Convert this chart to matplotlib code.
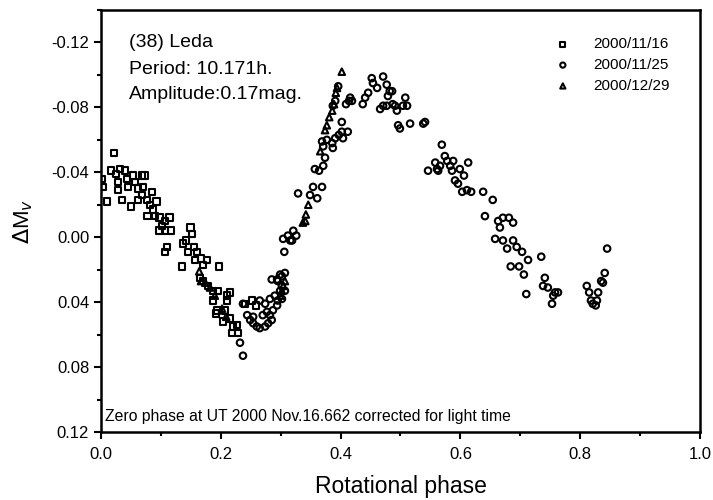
import numpy as np
import matplotlib.pyplot as plt
from matplotlib.ticker import MultipleLocator

plt.rcParams['font.family'] = ['Liberation Sans', 'DejaVu Sans']

# 2000/11/16 (squares)
ph_a = [0.002, 0.003, 0.010, 0.017, 0.022, 0.025, 0.028, 0.028, 0.032, 0.035,
        0.040, 0.043, 0.045, 0.050, 0.053, 0.057, 0.062, 0.062, 0.068, 0.068,
        0.070, 0.073, 0.077, 0.082, 0.085, 0.087, 0.093, 0.078, 0.090, 0.098,
        0.107, 0.114, 0.102, 0.098, 0.107, 0.117, 0.110, 0.107, 0.135, 0.149,
        0.152, 0.142, 0.137, 0.145, 0.155, 0.160, 0.157, 0.167, 0.170, 0.177,
        0.197, 0.165, 0.170, 0.179, 0.187, 0.195, 0.187, 0.194, 0.192, 0.204,
        0.210, 0.215, 0.210, 0.207, 0.215, 0.219, 0.229, 0.220, 0.227, 0.240,
        0.252, 0.259]
dm_a = [-0.036, -0.031, -0.022, -0.041, -0.052, -0.039, -0.034, -0.029, -0.042, -0.023,
        -0.041, -0.036, -0.031, -0.019, -0.038, -0.034, -0.030, -0.023, -0.038, -0.026,
        -0.031, -0.038, -0.023, -0.020, -0.028, -0.017, -0.022, -0.013, -0.013, -0.012,
        -0.010, -0.012, -0.007, -0.004, -0.004, -0.004, 0.006, 0.009, 0.018, -0.006,
        -0.002, 0.002, 0.004, 0.009, 0.006, 0.009, 0.014, 0.013, 0.017, 0.014,
        0.018, 0.025, 0.027, 0.030, 0.033, 0.033, 0.039, 0.045, 0.047, 0.052,
        0.036, 0.034, 0.039, 0.045, 0.050, 0.059, 0.059, 0.055, 0.054, 0.041,
        0.039, 0.042]

# 2000/11/25 (circles)
ph_b = [0.232, 0.237, 0.237, 0.244, 0.249, 0.254, 0.260, 0.265, 0.274, 0.279,
        0.285, 0.282, 0.277, 0.270, 0.254, 0.265, 0.274, 0.282, 0.290, 0.294,
        0.287, 0.295, 0.299, 0.302, 0.295, 0.302, 0.307, 0.299, 0.285, 0.294,
        0.306, 0.307, 0.302,
        0.304, 0.312, 0.321, 0.326, 0.319, 0.316, 0.329, 0.349, 0.354, 0.361,
        0.369, 0.357, 0.364, 0.371, 0.374, 0.371, 0.369, 0.377, 0.386, 0.387,
        0.391, 0.397, 0.404, 0.402, 0.412, 0.402, 0.387, 0.391, 0.396, 0.409,
        0.414, 0.419, 0.416,
        0.437, 0.441, 0.446, 0.452, 0.454, 0.461, 0.471, 0.477, 0.482, 0.479,
        0.466, 0.471, 0.477, 0.487, 0.491, 0.486, 0.494, 0.508, 0.504, 0.511,
        0.496, 0.499, 0.516, 0.538, 0.541,
        0.569, 0.558, 0.546, 0.561, 0.563, 0.566, 0.574, 0.578, 0.583, 0.588,
        0.586, 0.599, 0.606, 0.613, 0.591, 0.596, 0.603, 0.611, 0.618, 0.638,
        0.654, 0.641, 0.663, 0.671, 0.681, 0.688, 0.666, 0.658, 0.671, 0.678,
        0.688, 0.694, 0.703, 0.713, 0.735, 0.684, 0.698, 0.706, 0.710, 0.741,
        0.738, 0.746, 0.758, 0.763, 0.755, 0.753, 0.811, 0.815, 0.818, 0.821,
        0.826, 0.830, 0.828, 0.835, 0.838, 0.841, 0.845]
dm_b = [0.065, 0.073, 0.041, 0.048, 0.051, 0.053, 0.055, 0.056, 0.055, 0.053,
        0.051, 0.048, 0.046, 0.048, 0.049, 0.039, 0.041, 0.038, 0.036, 0.042,
        0.045, 0.039, 0.033, 0.030, 0.027, 0.024, 0.022, 0.023, 0.026, 0.026,
        0.009, 0.033, 0.038,
        0.001, -0.001, -0.004, -0.001, 0.002, 0.002, -0.027, -0.026, -0.031, -0.024,
        -0.031, -0.042, -0.041, -0.044, -0.049, -0.056, -0.059, -0.060, -0.058, -0.055,
        -0.061, -0.063, -0.061, -0.065, -0.065, -0.071, -0.081, -0.084, -0.093, -0.082,
        -0.084, -0.084, -0.086,
        -0.082, -0.086, -0.089, -0.098, -0.095, -0.092, -0.099, -0.094, -0.090, -0.087,
        -0.079, -0.081, -0.081, -0.082, -0.081, -0.090, -0.078, -0.086, -0.081, -0.081,
        -0.069, -0.067, -0.070, -0.070, -0.071,
        -0.057, -0.046, -0.041, -0.042, -0.041, -0.044, -0.050, -0.047, -0.044, -0.047,
        -0.041, -0.042, -0.038, -0.046, -0.035, -0.033, -0.028, -0.029, -0.028, -0.028,
        -0.023, -0.013, -0.010, -0.012, -0.012, -0.009, -0.006, 0.001, 0.002, 0.007,
        0.002, 0.006, 0.009, 0.014, 0.012, 0.018, 0.018, 0.023, 0.035, 0.025,
        0.030, 0.031, 0.034, 0.034, 0.036, 0.041, 0.030, 0.034, 0.039, 0.041,
        0.042, 0.034, 0.039, 0.027, 0.028, 0.022, 0.007]

# 2000/12/29 (triangles)
ph_c = [0.164, 0.167, 0.174, 0.182, 0.190, 0.202, 0.209, 0.299, 0.302, 0.304,
        0.307, 0.341, 0.337, 0.342, 0.346, 0.366, 0.374, 0.377, 0.381, 0.386,
        0.389, 0.392, 0.394, 0.402]
dm_c = [0.021, 0.027, 0.028, 0.031, 0.036, 0.044, 0.049, 0.036, 0.033, 0.030,
        0.027, -0.010, -0.009, -0.014, -0.020, -0.053, -0.066, -0.069, -0.074, -0.078,
        -0.082, -0.089, -0.092, -0.102]

fig = plt.figure(figsize=(7.13, 5.0), dpi=100)
ax = fig.add_axes([0.1417, 0.136, 0.840, 0.844])

mk = dict(facecolors='none', edgecolors='black', linewidths=1.5, s=22)
ax.scatter(ph_a, dm_a, marker='s', label='2000/11/16', **mk)
ax.scatter(ph_b, dm_b, marker='o', label='2000/11/25', **mk)
ax.scatter(ph_c, dm_c, marker='^', label='2000/12/29', **mk)

ax.set_xlim(0.0, 1.0)
ax.set_ylim(0.12, -0.14)
ax.set_xticks([0.0, 0.2, 0.4, 0.6, 0.8, 1.0])
ax.set_yticks([-0.12, -0.08, -0.04, 0.00, 0.04, 0.08, 0.12])
ax.set_yticklabels(['-0.12', '-0.08', '-0.04', '0.00', '0.04', '0.08', '0.12'])
ax.xaxis.set_minor_locator(MultipleLocator(0.1))
ax.yaxis.set_minor_locator(MultipleLocator(0.02))
ax.tick_params(which='major', direction='out', length=5, width=1.5, labelsize=12)
ax.tick_params(which='minor', direction='out', length=3, width=1.5)
ax.tick_params(axis='x', pad=6)
for s in ax.spines.values():
    s.set_linewidth(1.8)

ax.set_xlabel('Rotational phase', fontsize=16.5, labelpad=9)
ax.set_ylabel(r'$\Delta$M$_v$', fontsize=16, labelpad=12)

ax.text(0.046, 0.922, '(38) Leda', transform=ax.transAxes, fontsize=14, va='center')
ax.text(0.046, 0.858, 'Period: 10.171h.', transform=ax.transAxes, fontsize=14, va='center')
ax.text(0.046, 0.799, 'Amplitude:0.17mag.', transform=ax.transAxes, fontsize=14, va='center')
ax.text(0.007, 0.036, 'Zero phase at UT 2000 Nov.16.662 corrected for light time',
        transform=ax.transAxes, fontsize=11.3, va='center')

ax.legend(loc='upper right', bbox_to_anchor=(0.96, 0.95), frameon=False, fontsize=11,
          handletextpad=1.0, borderaxespad=0.0, labelspacing=0.45, markerscale=0.8)

fig.savefig('out.png', dpi=100)
